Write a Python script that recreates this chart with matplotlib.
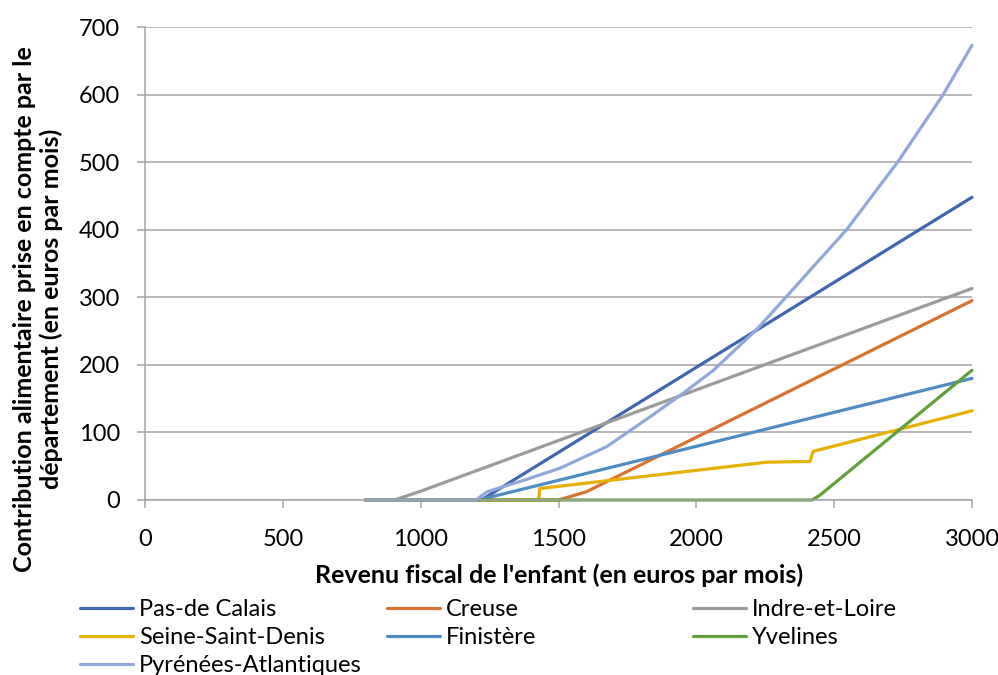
import matplotlib.pyplot as plt

plt.rcParams['font.family'] = ['Lato', 'DejaVu Sans']

# --- data ---
names = ["Pas-de Calais", "Creuse", "Indre-et-Loire", "Seine-Saint-Denis",
         "Finistère", "Yvelines", "Pyrénées-Atlantiques"]
colors = ["#3F66B0", "#DA712E", "#9B9B9B", "#E6B000",
          "#4F8CC3", "#62A03E", "#91A8DA"]

pas_x = [800, 1220, 3000]
pas_y = [0, 0, 448]

creuse_x = [800, 1500, 1600, 3000]
creuse_y = [0, 0, 12, 295]

indre_x = [800, 905, 1000, 3000]
indre_y = [0, 0, 13, 313]

seine_x = [800, 1428, 1432, 2256, 2412, 2424, 3000]
seine_y = [0, 0, 17, 56, 57, 72, 132]

finis_x = [800, 1210, 3000]
finis_y = [0, 0, 180]

yvel_x = [800, 2420, 2448, 3000]
yvel_y = [0, 0, 7, 192]

pyr_x = [800, 1200, 1240, 1380, 1505, 1675, 1832, 1952, 2062, 2218,
         2327, 2430, 2545, 2732, 2894, 3000]
pyr_y = [0, 0, 12, 30, 47, 79, 123, 158, 192, 252,
         301, 348, 400, 501, 599, 673]

series = [(pas_x, pas_y), (creuse_x, creuse_y), (indre_x, indre_y),
          (seine_x, seine_y), (finis_x, finis_y), (yvel_x, yvel_y),
          (pyr_x, pyr_y)]

x_ticks = [0, 500, 1000, 1500, 2000, 2500, 3000]
y_ticks = [0, 100, 200, 300, 400, 500, 600, 700]

W, H = 998, 675
fig = plt.figure(figsize=(W / 100, H / 100), dpi=100)
ax = fig.add_axes([145 / W, 1 - 500 / H, (972 - 145) / W, (500 - 27) / H])

handles = []
for (xs, ys), name, c in zip(series, names, colors):
    h, = ax.plot(xs, ys, color=c, lw=2.3, label=name,
                 solid_joinstyle="round", solid_capstyle="round", clip_on=False)
    handles.append(h)

GRID = "#A3A3A3"
ax.set_xlim(0, 3000)
ax.set_ylim(0, 700)
ax.set_xticks(x_ticks)
ax.set_yticks(y_ticks)
ax.yaxis.grid(True, color=GRID, lw=1.1)
ax.set_axisbelow(True)
for s in ["top", "right"]:
    ax.spines[s].set_visible(False)
for s in ["left", "bottom"]:
    ax.spines[s].set_color(GRID)
    ax.spines[s].set_linewidth(1.1)
ax.tick_params(axis="both", direction="out", color=GRID, width=1.1,
               length=6, labelsize=17, labelcolor="black")
ax.tick_params(axis="x", pad=15)
ax.tick_params(axis="y", pad=12)

fig.text(559 / W, 1 - 583 / H, "Revenu fiscal de l'enfant (en euros par mois)",
         ha="center", va="baseline", fontsize=18, fontweight="bold")
fig.text(38 / W, 1 - 309 / H,
         "Contribution alimentaire prise en compte par le\ndépartement (en euros par mois)",
         ha="center", va="center", rotation=90, multialignment="center",
         fontsize=18, fontweight="bold", linespacing=1.2)

# legend in three columns, row-major like the original
cols = [[0, 3, 6], [1, 4], [2, 5]]
col_x = [80, 387, 693]
for idx, cx in zip(cols, col_x):
    fig.legend([handles[i] for i in idx], [names[i] for i in idx],
               loc="upper left", bbox_to_anchor=(cx / W, 1 - 599 / H),
               frameon=False, fontsize=17, handlelength=2.25,
               handletextpad=0.25, labelspacing=0.3, borderpad=0,
               borderaxespad=0)

fig.savefig("out.png", dpi=100)
